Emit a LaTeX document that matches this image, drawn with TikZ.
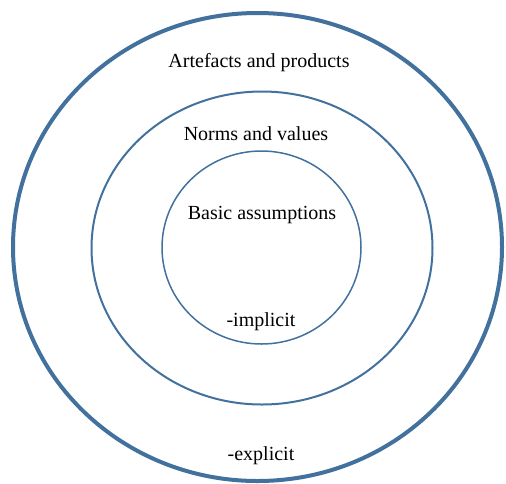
\documentclass[tikz,border=0pt]{standalone}
\usepackage{fontspec}
\setmainfont{Liberation Serif}
\usetikzlibrary{shapes.geometric}
\definecolor{ringblue}{RGB}{66,113,158}

\begin{document}
\begin{tikzpicture}[x=1pt, y=-1pt,
  every node/.style={font=\fontsize{20}{24}\selectfont},
  ring/.style={draw=ringblue, ellipse, inner sep=0pt}]

% Canvas
\useasboundingbox (0,0) rectangle (506,483);

% Rings
\node[ring, line width=4pt, minimum width=489pt, minimum height=468pt] (outer) at (257.5,247) {};
\node[ring, line width=2pt, minimum width=341pt, minimum height=313pt] (middle) at (262,248) {};
\node[ring, line width=1.5pt, minimum width=199pt, minimum height=193pt] (inner) at (261.5,247.5) {};

% Labels
\node (artefacts) at (259,63) {Artefacts and products};
\node (norms) at (256,134) {Norms and values};
\node (basic) at (262,215) {Basic assumptions};
\node (implicit) at (261,322) {-implicit};
\node (explicit) at (261,456) {-explicit};

\end{tikzpicture}
\end{document}
